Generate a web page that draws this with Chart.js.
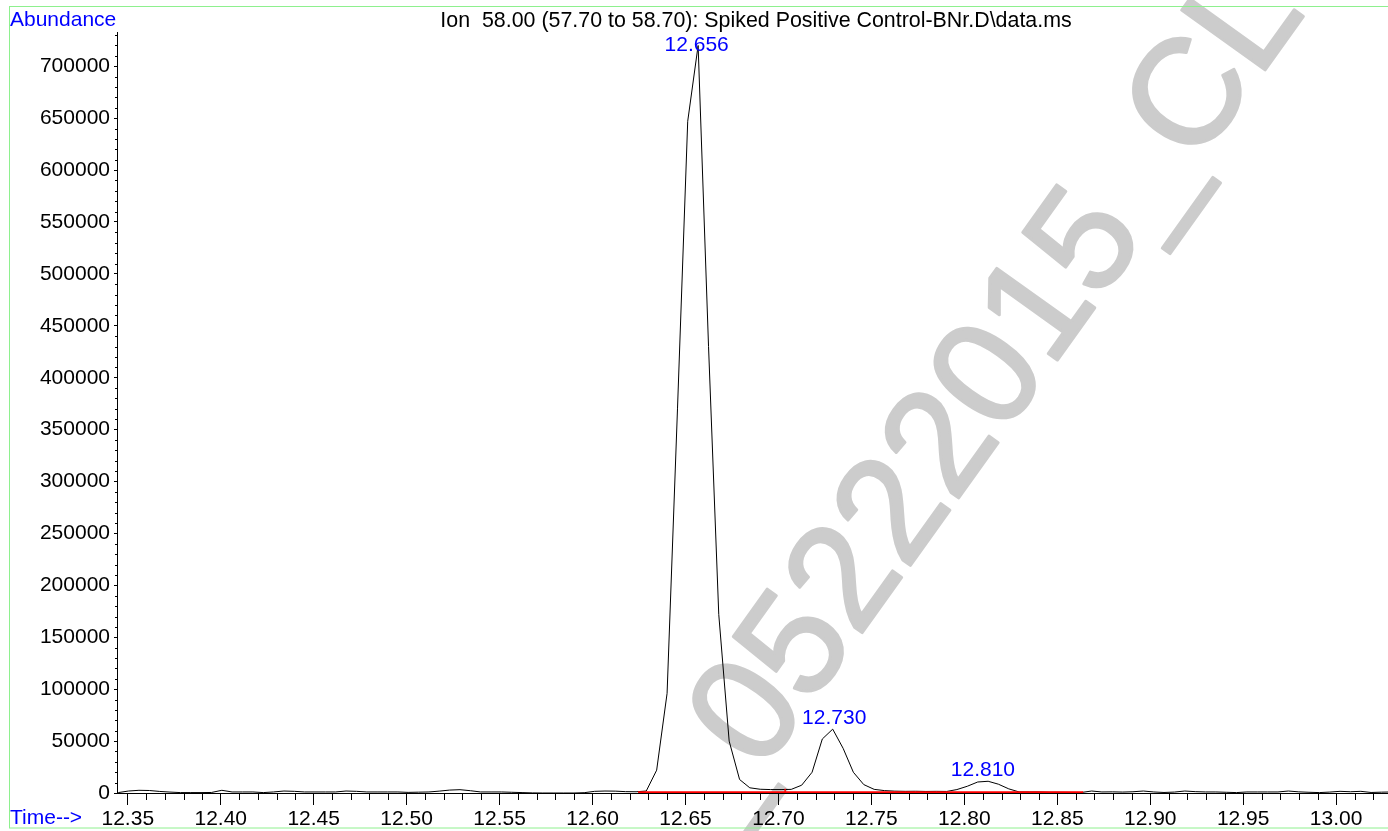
<!DOCTYPE html>
<html>
<head>
<meta charset="utf-8">
<script src="https://cdn.jsdelivr.net/npm/chart.js@4.4.1/dist/chart.umd.min.js"></script>
<style>
  html, body { margin: 0; padding: 0; background: #fff; }
  #wrap { width: 1388px; height: 831px; }
</style>
</head>
<body>
<div id="wrap"><canvas id="ionChart" width="1388" height="831"></canvas></div>
<script>
var FONT = '"Liberation Sans", Arial, Helvetica, sans-serif';
var blue = '#0000ff';
var frameGreen = '#8ef08e';

// retention time (min)
var times = [
    12.3393, 12.3449, 12.3504, 12.3560, 12.3616, 12.3672, 12.3727, 12.3783, 12.3839, 12.3894,
    12.3950, 12.4006, 12.4061, 12.4117, 12.4173, 12.4229, 12.4284, 12.4340, 12.4396, 12.4451,
    12.4507, 12.4563, 12.4618, 12.4674, 12.4730, 12.4786, 12.4841, 12.4897, 12.4953, 12.5008,
    12.5064, 12.5120, 12.5175, 12.5231, 12.5287, 12.5343, 12.5398, 12.5454, 12.5510, 12.5565,
    12.5621, 12.5677, 12.5732, 12.5788, 12.5844, 12.5900, 12.5955, 12.6011, 12.6067, 12.6122,
    12.6178, 12.6234, 12.6289, 12.6345, 12.6401, 12.6457, 12.6512, 12.6568, 12.6624, 12.6679,
    12.6735, 12.6791, 12.6846, 12.6902, 12.6958, 12.7014, 12.7069, 12.7125, 12.7181, 12.7236,
    12.7292, 12.7348, 12.7403, 12.7459, 12.7515, 12.7571, 12.7626, 12.7682, 12.7738, 12.7793,
    12.7849, 12.7905, 12.7960, 12.8016, 12.8072, 12.8128, 12.8183, 12.8239, 12.8295, 12.8350,
    12.8406, 12.8462, 12.8517, 12.8573, 12.8629, 12.8685, 12.8740, 12.8796, 12.8852, 12.8907,
    12.8963, 12.9019, 12.9074, 12.9130, 12.9186, 12.9242, 12.9297, 12.9353, 12.9409, 12.9464,
    12.9520, 12.9576, 12.9631, 12.9687, 12.9743, 12.9799, 12.9854, 12.9910, 12.9966, 13.0021,
    13.0077, 13.0133, 13.0188, 13.0244, 13.0300
];

// ion 58 abundance
var abundance = [
    500, 400, 1900, 2600, 2400, 1500, 900, 400, 400, 400,
    500, 2600, 1000, 1000, 1000, 400, 1000, 1900, 1600, 1000,
    1000, 1000, 1000, 1900, 1600, 1000, 1000, 1000, 1000, 600,
    800, 1000, 1800, 2800, 3200, 2200, 1000, 1000, 1000, 700,
    400, 100, 0, 0, 0, 0, 300, 1600, 1900, 1800,
    1300, 1200, 1900, 22000, 96000, 370000, 647000, 720000, 430000, 172000,
    50000, 13000, 5000, 3600, 3300, 3300, 3500, 7500, 20000, 52000,
    61500, 43000, 20000, 8100, 3500, 2300, 1800, 1600, 1700, 1500,
    1600, 1500, 3300, 6500, 10600, 11300, 8500, 4000, 1000, 1000,
    1000, 700, 700, 600, 500, 1900, 1000, 1100, 900, 1200,
    1900, 1000, 500, 900, 1900, 1300, 1000, 1000, 700, 400,
    1000, 1000, 1000, 1000, 1900, 1100, 700, 400, 900, 1600,
    1200, 1600, 500, 800, 1000
];

// axis tick labels
var xTicks = [12.35, 12.40, 12.45, 12.50, 12.55, 12.60, 12.65, 12.70, 12.75, 12.80, 12.85, 12.90, 12.95, 13.00];
var yTicks = [0, 50000, 100000, 150000, 200000, 250000, 300000, 350000, 400000, 450000, 500000, 550000, 600000, 650000, 700000];

// integrated peaks
var peakTimes = [12.656, 12.730, 12.810];
var peakApex = [720000, 61500, 11300];
var peakLabels = ['12.656', '12.730', '12.810'];

// integration baselines (red)
var baseStart = [12.6245, 12.7036];
var baseEnd = [12.7036, 12.8639];
var baseLevel = 800;
var baseMarks = [12.7036];

var titleText = 'Ion  58.00 (57.70 to 58.70): Spiked Positive Control-BNr.D\\data.ms';
var watermarkText = '_05222015_CL';

var xMin = 12.3442, xMax = 13.0279;
var yMax = 733000;

var traceData = times.map(function (t, i) { return { x: t, y: abundance[i] }; });

var datasets = [{
    data: traceData,
    borderColor: '#000000',
    borderWidth: 1,
    pointRadius: 0,
    tension: 0,
    order: 1
}];
baseStart.forEach(function (s, i) {
    datasets.push({
        data: [{ x: s, y: baseLevel }, { x: baseEnd[i], y: baseLevel }],
        borderColor: '#ff0000',
        borderWidth: 2,
        pointRadius: 0,
        order: 0
    });
});
baseMarks.forEach(function (t) {
    datasets.push({
        data: [{ x: t, y: 0 }, { x: t, y: 4000 }],
        borderColor: '#ff0000',
        borderWidth: 1.5,
        pointRadius: 0,
        order: 0
    });
});

// watermark under everything
var watermarkPlugin = {
    id: 'watermark',
    beforeDraw: function (chart) {
        var ctx = chart.ctx;
        ctx.save();
        ctx.fillStyle = '#ffffff';
        ctx.fillRect(0, 0, chart.width, chart.height);
        ctx.translate(713, 841);
        ctx.rotate(-54.4 * Math.PI / 180);
        ctx.font = '149px ' + FONT;
        ctx.fillStyle = '#cccccc';
        ctx.strokeStyle = '#cccccc';
        ctx.lineWidth = 3;
        ctx.lineJoin = 'round';
        ctx.textAlign = 'left';
        ctx.textBaseline = 'alphabetic';
        ctx.fillText(watermarkText, 0, 0);
        ctx.strokeText(watermarkText, 0, 0);
        ctx.restore();
    }
};

// minor ticks, frame and the texts
var decorPlugin = {
    id: 'decor',
    afterDraw: function (chart) {
        var ctx = chart.ctx;
        var xs = chart.scales.x, ys = chart.scales.y;
        var area = chart.chartArea;
        ctx.save();
        ctx.strokeStyle = '#000000';
        ctx.lineWidth = 1;
        ctx.beginPath();
        for (var k = Math.ceil(xs.min * 100); k <= Math.floor(xs.max * 100); k++) {
            if (k % 5 === 0) continue;
            var px = Math.round(xs.getPixelForValue(k / 100)) + 0.5;
            ctx.moveTo(px, area.bottom);
            ctx.lineTo(px, area.bottom + 7);
        }
        for (var j = 0; j * 10000 <= ys.max; j++) {
            if (j % 5 === 0) continue;
            var py = Math.round(ys.getPixelForValue(j * 10000)) + 0.5;
            ctx.moveTo(area.left - 2, py);
            ctx.lineTo(area.left, py);
        }
        ctx.stroke();

        // green frame
        ctx.strokeStyle = frameGreen;
        ctx.strokeRect(9.5, 6.5, 1400, 821.5);

        ctx.textBaseline = 'alphabetic';
        ctx.font = '21.4px ' + FONT;
        ctx.fillStyle = '#000000';
        ctx.textAlign = 'center';
        ctx.fillText(titleText, 756, 26.5);

        ctx.font = '21px ' + FONT;
        ctx.fillStyle = blue;
        ctx.textAlign = 'left';
        ctx.fillText('Abundance', 10, 26);
        ctx.fillText('Time-->', 10, 824);

        ctx.textAlign = 'center';
        peakLabels.forEach(function (lab, i) {
            var lx = xs.getPixelForValue(peakTimes[i]);
            var ly = Math.max(ys.getPixelForValue(peakApex[i]) - 5, area.top + 19);
            ctx.fillText(lab, lx, ly);
        });
        ctx.restore();
    }
};

var ctx = document.getElementById('ionChart').getContext('2d');

new Chart(ctx, {
    type: 'line',
    data: { datasets: datasets },
    options: {
        responsive: false,
        animation: false,
        events: [],
        layout: { padding: { top: 32, left: 0, right: 0, bottom: 0 } },
        plugins: {
            legend: { display: false },
            tooltip: { enabled: false },
            title: { display: false }
        },
        scales: {
            x: {
                type: 'linear',
                min: xMin,
                max: xMax,
                border: { color: '#000000', width: 1 },
                grid: { drawOnChartArea: false, tickLength: 12, tickColor: '#000000' },
                afterBuildTicks: function (s) {
                    s.ticks = xTicks.map(function (v) { return { value: v }; });
                },
                ticks: {
                    autoSkip: false,
                    maxRotation: 0,
                    padding: 2,
                    color: '#000000',
                    font: { family: FONT, size: 21 },
                    callback: function (v) { return v.toFixed(2); }
                },
                afterFit: function (s) {
                    s.height = 38;
                    s.paddingLeft = 0;
                    s.paddingRight = 0;
                }
            },
            y: {
                type: 'linear',
                min: 0,
                max: yMax,
                border: { color: '#000000', width: 1 },
                grid: { drawOnChartArea: false, tickLength: 3, tickColor: '#000000' },
                afterBuildTicks: function (s) {
                    s.ticks = yTicks.map(function (v) { return { value: v }; });
                },
                ticks: {
                    autoSkip: false,
                    padding: 4,
                    color: '#000000',
                    font: { family: FONT, size: 21 },
                    callback: function (v) { return String(v); }
                },
                afterFit: function (s) {
                    s.width = 117;
                    s.paddingTop = 0;
                    s.paddingBottom = 0;
                }
            }
        }
    },
    plugins: [watermarkPlugin, decorPlugin]
});
</script>
</body>
</html>
